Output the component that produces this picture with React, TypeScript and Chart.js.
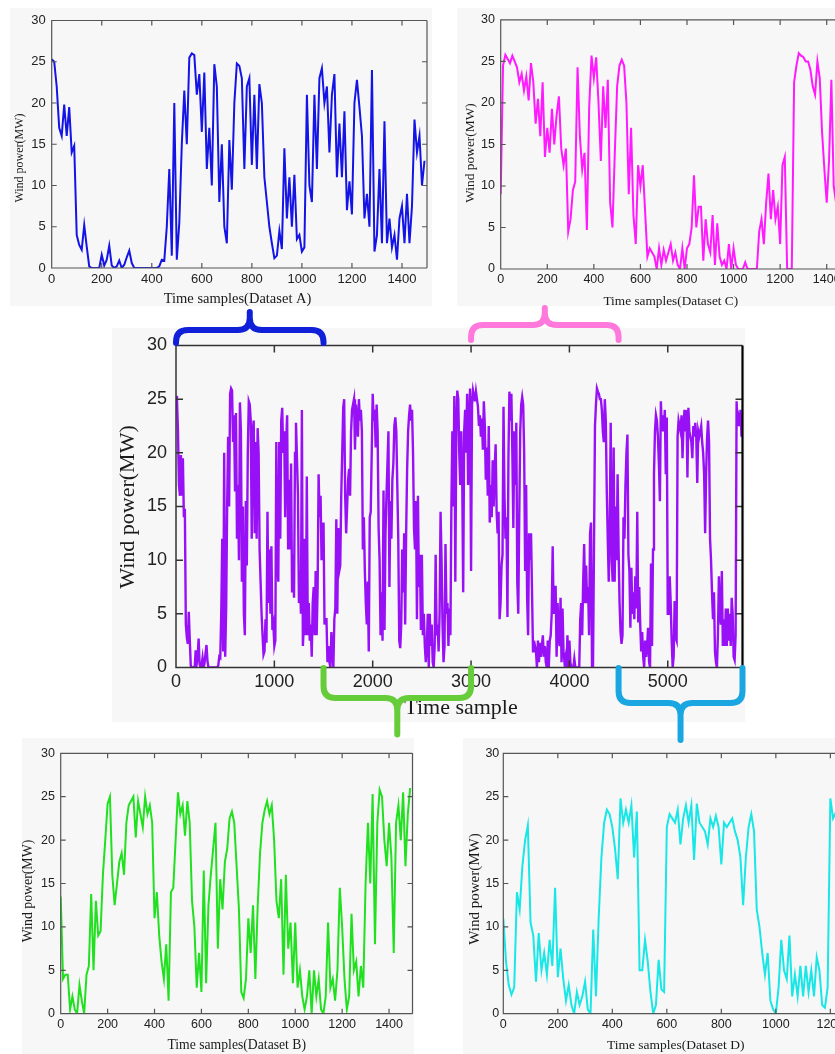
import React, { useEffect, useRef } from "react";
import { Chart, registerables } from "chart.js";

Chart.register(...registerables);

// Readings are stored every STEP samples.
const STEP = 10;

// Dataset A, samples 0..1490
const datasetA = [
  25.3, 25, 22, 17, 16, 19.8, 16, 19.5, 14, 14.8,
  4, 2.8, 2.2, 5.2, 2.6, 0.2, 0, 0, 0, 0,
  1.6, 0.3, 1, 2.7, 0.3, 0, 0.2, 0.9, 0, 0.4,
  1.3, 2.1, 0.6, 0, 0, 0, 0, 0, 0, 0,
  0, 0, 0, 0.2, 1, 0.9, 5, 12, 1.5, 20,
  1, 5.5, 15, 21.5, 15, 25.5, 26, 25.8, 21, 23.5,
  16.5, 23.7, 12, 17, 10, 24.7, 22, 8, 15, 5,
  3, 15.5, 9.5, 20, 24.8, 24.5, 23, 12, 22, 23,
  12.5, 21, 12, 22.3, 20, 11, 8, 5, 3, 1.2,
  1.5, 4.5, 2.3, 14.5, 6, 11, 5, 11.3, 3.5, 4,
  2, 2.5, 21, 10, 8, 21, 12, 23, 24.2, 20,
  22, 14, 21, 23.5, 11, 17.5, 11, 19, 7, 10.5,
  6.5, 20, 22.8, 19.5, 16, 6, 9, 5, 24, 2,
  4, 12, 3, 17.8, 3, 6, 2.5, 4, 1, 6,
  7.5, 3, 9, 3, 7.5, 18, 14, 16, 10, 13,
];

// Dataset B, samples 0..1490
const datasetB = [
  13.5, 4, 4.5, 4.5, 0.5, 2, 0.5, 0, 3.3, 1.5,
  0, 4.5, 5.5, 13.8, 5, 13, 9, 9.5, 16, 20,
  24.2, 25, 16, 12.5, 15, 17.5, 18.5, 16, 22, 24,
  24.5, 25, 20.3, 24.5, 23, 21.5, 25, 23, 24, 22,
  11, 14, 9, 6, 4, 8, 1.5, 14, 14.5, 20,
  25.5, 23, 24, 20.5, 24.5, 22, 13, 10, 3, 7,
  2.5, 16.5, 3.5, 12.5, 16, 19, 22, 7.5, 15.5, 12,
  17.5, 19, 22.5, 23.3, 22, 17, 12, 2.5, 1.8, 4,
  11, 7, 12.5, 4, 12.5, 18.5, 22, 23.5, 24.5, 23,
  24, 20, 13, 11, 15.5, 4.5, 16, 7.5, 10.5, 3.5,
  10.5, 3, 5, 2, 0.5, 2, 5, 0, 5, 2,
  4, 0.5, 0, 2, 10.5, 3, 4, 1.5, 5, 14.5,
  10, 4, 0.5, 2, 11.5, 5, 6, 2, 5.5, 3,
  15, 22, 15, 25.3, 8, 22, 25.8, 25, 20, 17,
  22, 18, 7, 22, 24, 20, 25.5, 17, 23, 26,
];

// Dataset C, samples 0..1490
const datasetC = [
  9, 24.5, 25.8, 25.3, 24.8, 25.7, 25, 24.3, 22.5, 23.5,
  21.5, 23.2, 20.3, 24.8, 22.5, 17.5, 20.5, 16, 22.5, 13.5,
  17, 14, 19.3, 15, 18.5, 20.8, 14.5, 12.5, 14.5, 4.5,
  6, 9.5, 10.5, 24.3, 16, 12, 14, 4.7, 19.5, 25.7,
  23, 25.5, 20, 13, 22, 17, 22.8, 8, 5, 14,
  22, 24.5, 25.2, 24.5, 20, 9, 17, 6.5, 3, 12.5,
  10, 12.5, 7, 1.5, 2.5, 2, 1.5, 0, 2.5, 0.5,
  2.3, 1, 2, 3, 1, 2, 0.5, 0, 2.5, 0,
  2.5, 3, 5, 11.3, 5, 7.5, 7.5, 1, 6, 3,
  2, 6.5, 0.5, 5.5, 1.5, 0.5, 1, 0, 3, 0,
  2.5, 0.5, 0, 0, 0, 0.8, 0, 0, 0, 0,
  0, 4.5, 6, 3, 8, 11.5, 6, 9.5, 6, 7.5,
  3, 12.5, 13.5, 0, 0, 0, 22.5, 24.5, 26, 25.7,
  25.5, 25, 25, 24, 22, 21, 25, 23, 16.5, 12,
  8, 13, 22.8, 10, 8, 20.5, 8, 15, 10, 18,
];

// Dataset D, samples 0..1250
const datasetD = [
  11, 6, 3.3, 2.2, 3, 14, 12, 17, 20, 21.7,
  10.5, 9, 3.7, 9.3, 5, 7, 4.5, 8.5, 5.5, 14.5,
  4.2, 7.5, 4, 1.5, 3.3, 1, 0, 2.5, 1, 2,
  3.7, 0.5, 0, 9.7, 2, 11, 18, 22, 23.5, 23,
  21.5, 19, 15.5, 24.8, 22, 23.5, 22, 24, 18, 23.3,
  5, 5, 8.5, 6, 2.5, 0, 1, 6.2, 2.8, 2.5,
  21.5, 23, 22.5, 22, 23.5, 19.5, 22.5, 24, 22, 24,
  17.7, 24.2, 22, 21.5, 21, 19.5, 22.5, 21.5, 22.8, 21.5,
  17.2, 22, 21.5, 22, 22.5, 21, 20, 18, 12.5, 18,
  21.5, 23, 21, 12, 10, 7, 4.5, 7, 1.5, 0.5,
  0, 3, 8.5, 5, 4, 9, 2, 4.5, 2, 5.5,
  2, 5.5, 2.5, 5, 2, 6.5, 5, 1, 0.7, 3,
  24.8, 22.5, 23.2, 22.5, 24, 21.5,
];

// Where each dataset sits inside the full record
const segmentStarts = [0, 1500, 3000, 4500];
const fullRecordEnd = 5760;
const datasetLengths = [1500, 1500, 1500, 1260];

// Axis ticks
const powerTicks = [0, 5, 10, 15, 20, 25, 30];
const sampleTicks = [0, 200, 400, 600, 800, 1000, 1200, 1400];
const sampleTicksD = [0, 200, 400, 600, 800, 1000, 1200];
const recordTicks = [0, 1000, 2000, 3000, 4000, 5000];

// Text
const powerLabel = "Wind power(MW)";
const labelA = "Time samples(Dataset A)";
const labelB = "Time samples(Dataset B)";
const labelC = "Time samples(Dataset C)";
const labelD = "Time samples(Dataset D)";
const recordLabel = "Time sample";

type Pt = { x: number; y: number };
const toPoints = (values: number[], offset = 0): Pt[] =>
  values.map((v, i) => ({ x: offset + i * STEP, y: v }));

const fullRecord: Pt[] = [
  ...toPoints(datasetA, segmentStarts[0]),
  ...toPoints(datasetB, segmentStarts[1]),
  ...toPoints(datasetC, segmentStarts[2]),
  ...toPoints(datasetD, segmentStarts[3]),
];

const SANS = '"Liberation Sans", Arial, sans-serif';
const SERIF = '"Liberation Serif", "Times New Roman", serif';
const PANEL_BG = "#f7f7f7";

type Brace = {
  from: number;
  to: number;
  color: string;
  end: number; // offset of the brace ends from the plot edge
  bar: number; // offset of the horizontal bar
  tip: number; // offset of the tip
  side: "top" | "bottom";
};

type Panel = {
  key: string;
  canvas: { x: number; y: number; w: number; h: number };
  bg: { x: number; y: number; w: number; h: number };
  area: { left: number; top: number; right: number; bottom: number };
  points: Pt[];
  color: string;
  lineWidth: number;
  xMax: number;
  xTicks: number[];
  tickSize: number;
  padX: number;
  padY: number;
  frameColor: string;
  frameWidth: number;
  rightColor: string;
  rightWidth: number;
  tickLen: number;
  yTitle: { text: string; x: number; y: number; size: number };
  xTitle: { text: string; x: number; y: number; size: number };
  braces?: Brace[];
};

const braces: Brace[] = [
  { from: segmentStarts[0], to: segmentStarts[0] + datasetLengths[0], color: "#1020d8", end: 2.5, bar: 15.5, tip: 33.5, side: "top" },
  { from: segmentStarts[2], to: segmentStarts[2] + datasetLengths[2], color: "#ff78dc", end: 5.5, bar: 20.5, tip: 37.5, side: "top" },
  { from: segmentStarts[1], to: segmentStarts[1] + datasetLengths[1], color: "#66cc3a", end: 0.5, bar: 30.5, tip: 67, side: "bottom" },
  { from: segmentStarts[3], to: fullRecordEnd, color: "#1aa6e0", end: 0.5, bar: 35.5, tip: 72.5, side: "bottom" },
];

const panels: Panel[] = [
  {
    key: "A",
    canvas: { x: 0, y: 8, w: 432, h: 304 },
    bg: { x: 10, y: 8, w: 422, h: 298 },
    area: { left: 51.7, top: 11.3, right: 427, bottom: 260 },
    points: toPoints(datasetA),
    color: "#1414e6",
    lineWidth: 2,
    xMax: datasetLengths[0],
    xTicks: sampleTicks,
    tickSize: 13,
    padX: 4.5,
    padY: 6,
    frameColor: "#555",
    frameWidth: 1.2,
    rightColor: "#555",
    rightWidth: 1.2,
    tickLen: 5,
    yTitle: { text: powerLabel, x: 20, y: 150, size: 12 },
    xTitle: { text: labelA, x: 237.5, y: 291, size: 14.5 },
  },
  {
    key: "C",
    canvas: { x: 457, y: 8, w: 398, h: 304 },
    bg: { x: 457, y: 8, w: 400, h: 298 },
    area: { left: 43.7, top: 11.3, right: 393, bottom: 261 },
    points: toPoints(datasetC),
    color: "#ff1aff",
    lineWidth: 2,
    xMax: datasetLengths[2],
    xTicks: sampleTicks,
    tickSize: 12.5,
    padX: 4,
    padY: 5.7,
    frameColor: "#555",
    frameWidth: 1.2,
    rightColor: "#555",
    rightWidth: 1.2,
    tickLen: 5,
    yTitle: { text: powerLabel, x: 13, y: 145, size: 13.4 },
    xTitle: { text: labelC, x: 213.8, y: 293.7, size: 13.3 },
  },
  {
    key: "B",
    canvas: { x: 12, y: 738, w: 402, h: 316 },
    bg: { x: 22, y: 738, w: 392, h: 316 },
    area: { left: 48.7, top: 15.3, right: 400.5, bottom: 275.7 },
    points: toPoints(datasetB),
    color: "#20e020",
    lineWidth: 2,
    xMax: datasetLengths[1],
    xTicks: sampleTicks,
    tickSize: 12.5,
    padX: 5,
    padY: 5.7,
    frameColor: "#555",
    frameWidth: 1.2,
    rightColor: "#555",
    rightWidth: 1.2,
    tickLen: 5,
    yTitle: { text: powerLabel, x: 16.3, y: 153, size: 13.8 },
    xTitle: { text: labelB, x: 224.7, y: 307, size: 13.7 },
  },
  {
    key: "D",
    canvas: { x: 463, y: 738, w: 389, h: 316 },
    bg: { x: 463, y: 738, w: 380, h: 316 },
    area: { left: 40.3, top: 15.3, right: 383.7, bottom: 275.7 },
    points: toPoints(datasetD),
    color: "#19e6e6",
    lineWidth: 2,
    xMax: datasetLengths[3],
    xTicks: sampleTicksD,
    tickSize: 12.5,
    padX: 5,
    padY: 4,
    frameColor: "#555",
    frameWidth: 1.2,
    rightColor: "#555",
    rightWidth: 1.2,
    tickLen: 5,
    yTitle: { text: powerLabel, x: 12, y: 151, size: 15 },
    xTitle: { text: labelD, x: 212.7, y: 307, size: 13.5 },
  },
  {
    key: "full",
    canvas: { x: 100, y: 295, w: 660, h: 455 },
    bg: { x: 112, y: 328, w: 633, h: 394 },
    area: { left: 76, top: 50.5, right: 642.5, bottom: 372.5 },
    points: fullRecord,
    color: "#9810f5",
    lineWidth: 2.4,
    xMax: fullRecordEnd,
    xTicks: recordTicks,
    tickSize: 18,
    padX: 5.5,
    padY: 9,
    frameColor: "#333",
    frameWidth: 1.5,
    rightColor: "#000",
    rightWidth: 2.2,
    tickLen: 7,
    yTitle: { text: powerLabel, x: 28, y: 212, size: 22 },
    xTitle: { text: recordLabel, x: 361, y: 413, size: 22 },
    braces,
  },
];

function drawBrace(ctx: CanvasRenderingContext2D, x1: number, x2: number, yEnd: number, yBar: number, yTip: number) {
  const s = Math.sign(yEnd - yBar);
  const d = Math.sign(yTip - yBar);
  const r = Math.min(12, Math.abs(yEnd - yBar));
  const r2 = Math.min(12, Math.abs(yTip - yBar));
  const xc = (x1 + x2) / 2;
  ctx.beginPath();
  ctx.moveTo(x1, yEnd);
  ctx.lineTo(x1, yBar + s * r);
  ctx.quadraticCurveTo(x1, yBar, x1 + r, yBar);
  ctx.lineTo(xc - r2, yBar);
  ctx.quadraticCurveTo(xc, yBar, xc, yBar + d * r2);
  ctx.lineTo(xc, yTip);
  ctx.lineTo(xc, yBar + d * r2);
  ctx.quadraticCurveTo(xc, yBar, xc + r2, yBar);
  ctx.lineTo(x2 - r, yBar);
  ctx.quadraticCurveTo(x2, yBar, x2, yBar + s * r);
  ctx.lineTo(x2, yEnd);
  ctx.stroke();
}

// Frame with inward ticks, axis titles and range braces
const panelDecor = {
  id: "panelDecor",
  afterDraw(chart: any, _args: any, opts: any) {
    const p: Panel = opts.panel;
    if (!p) return;
    const { ctx, chartArea: a } = chart;
    const xs = chart.scales.x;
    const ys = chart.scales.y;
    ctx.save();

    ctx.lineCap = "butt";
    ctx.strokeStyle = p.frameColor;
    ctx.lineWidth = p.frameWidth;
    ctx.beginPath();
    ctx.moveTo(a.right, a.top);
    ctx.lineTo(a.left, a.top);
    ctx.lineTo(a.left, a.bottom);
    ctx.lineTo(a.right, a.bottom);
    for (const v of p.xTicks) {
      const px = xs.getPixelForValue(v);
      ctx.moveTo(px, a.top);
      ctx.lineTo(px, a.top + p.tickLen);
      ctx.moveTo(px, a.bottom);
      ctx.lineTo(px, a.bottom - p.tickLen);
    }
    for (const v of powerTicks) {
      const py = ys.getPixelForValue(v);
      ctx.moveTo(a.left, py);
      ctx.lineTo(a.left + p.tickLen, py);
      ctx.moveTo(a.right, py);
      ctx.lineTo(a.right - p.tickLen, py);
    }
    ctx.stroke();

    ctx.strokeStyle = p.rightColor;
    ctx.lineWidth = p.rightWidth;
    ctx.beginPath();
    ctx.moveTo(a.right, a.top);
    ctx.lineTo(a.right, a.bottom);
    ctx.stroke();

    ctx.fillStyle = "#1a1a1a";
    ctx.textAlign = "center";
    ctx.textBaseline = "middle";
    ctx.font = `${p.xTitle.size}px ${SERIF}`;
    ctx.fillText(p.xTitle.text, p.xTitle.x, p.xTitle.y);
    ctx.save();
    ctx.translate(p.yTitle.x, p.yTitle.y);
    ctx.rotate(-Math.PI / 2);
    ctx.font = `${p.yTitle.size}px ${SERIF}`;
    ctx.fillText(p.yTitle.text, 0, 0);
    ctx.restore();

    if (p.braces) {
      ctx.lineWidth = 6;
      ctx.lineCap = "round";
      ctx.lineJoin = "round";
      for (const b of p.braces) {
        const x1 = xs.getPixelForValue(b.from);
        const x2 = xs.getPixelForValue(b.to);
        ctx.strokeStyle = b.color;
        if (b.side === "top") {
          drawBrace(ctx, x1, x2, a.top - b.end, a.top - b.bar, a.top - b.tip);
        } else {
          drawBrace(ctx, x1, x2, a.bottom + b.end, a.bottom + b.bar, a.bottom + b.tip);
        }
      }
    }
    ctx.restore();
  },
};

function PanelChart({ panel }: { panel: Panel }) {
  const ref = useRef<HTMLCanvasElement | null>(null);
  useEffect(() => {
    const canvas = ref.current;
    if (!canvas) return;
    const { w, h } = panel.canvas;
    const a = panel.area;
    const tickFont = { family: SANS, size: panel.tickSize, lineHeight: 1 };
    const chart = new Chart(canvas, {
      type: "line",
      data: {
        datasets: [
          {
            data: panel.points,
            borderColor: panel.color,
            borderWidth: panel.lineWidth,
            pointRadius: 0,
            fill: false,
            tension: 0,
          },
        ],
      },
      options: {
        responsive: false,
        animation: false,
        devicePixelRatio: 1,
        events: [],
        layout: { padding: { left: 0, top: a.top, right: w - a.right, bottom: 0 } },
        plugins: {
          legend: { display: false },
          tooltip: { enabled: false },
          panelDecor: { panel },
        } as any,
        scales: {
          x: {
            type: "linear",
            min: 0,
            max: panel.xMax,
            afterBuildTicks: (s: any) => {
              s.ticks = panel.xTicks.map((v) => ({ value: v }));
            },
            afterFit: (s: any) => {
              s.height = h - a.bottom;
            },
            grid: { display: false, drawTicks: false },
            border: { display: false },
            ticks: {
              autoSkip: false,
              maxRotation: 0,
              padding: panel.padX,
              font: tickFont,
              color: "#222",
              callback: (v: any) => String(v),
            },
          },
          y: {
            type: "linear",
            min: 0,
            max: 30,
            afterBuildTicks: (s: any) => {
              s.ticks = powerTicks.map((v) => ({ value: v }));
            },
            afterFit: (s: any) => {
              s.width = a.left;
            },
            grid: { display: false, drawTicks: false },
            border: { display: false },
            ticks: {
              autoSkip: false,
              padding: panel.padY,
              font: tickFont,
              color: "#222",
              callback: (v: any) => String(v),
            },
          },
        },
      },
      plugins: [panelDecor],
    } as any);
    return () => chart.destroy();
  }, [panel]);
  const c = panel.canvas;
  return (
    <canvas
      ref={ref}
      width={c.w}
      height={c.h}
      style={{ position: "absolute", left: c.x, top: c.y, width: c.w, height: c.h, display: "block" }}
    />
  );
}

export default function App() {
  return (
    <div
      style={{
        position: "fixed",
        left: 0,
        top: 0,
        width: 835,
        height: 1054,
        overflow: "hidden",
        background: "#ffffff",
      }}
    >
      {panels.map((p) => (
        <div
          key={`bg-${p.key}`}
          style={{ position: "absolute", left: p.bg.x, top: p.bg.y, width: p.bg.w, height: p.bg.h, background: PANEL_BG }}
        />
      ))}
      {panels.map((p) => (
        <PanelChart key={p.key} panel={p} />
      ))}
    </div>
  );
}
